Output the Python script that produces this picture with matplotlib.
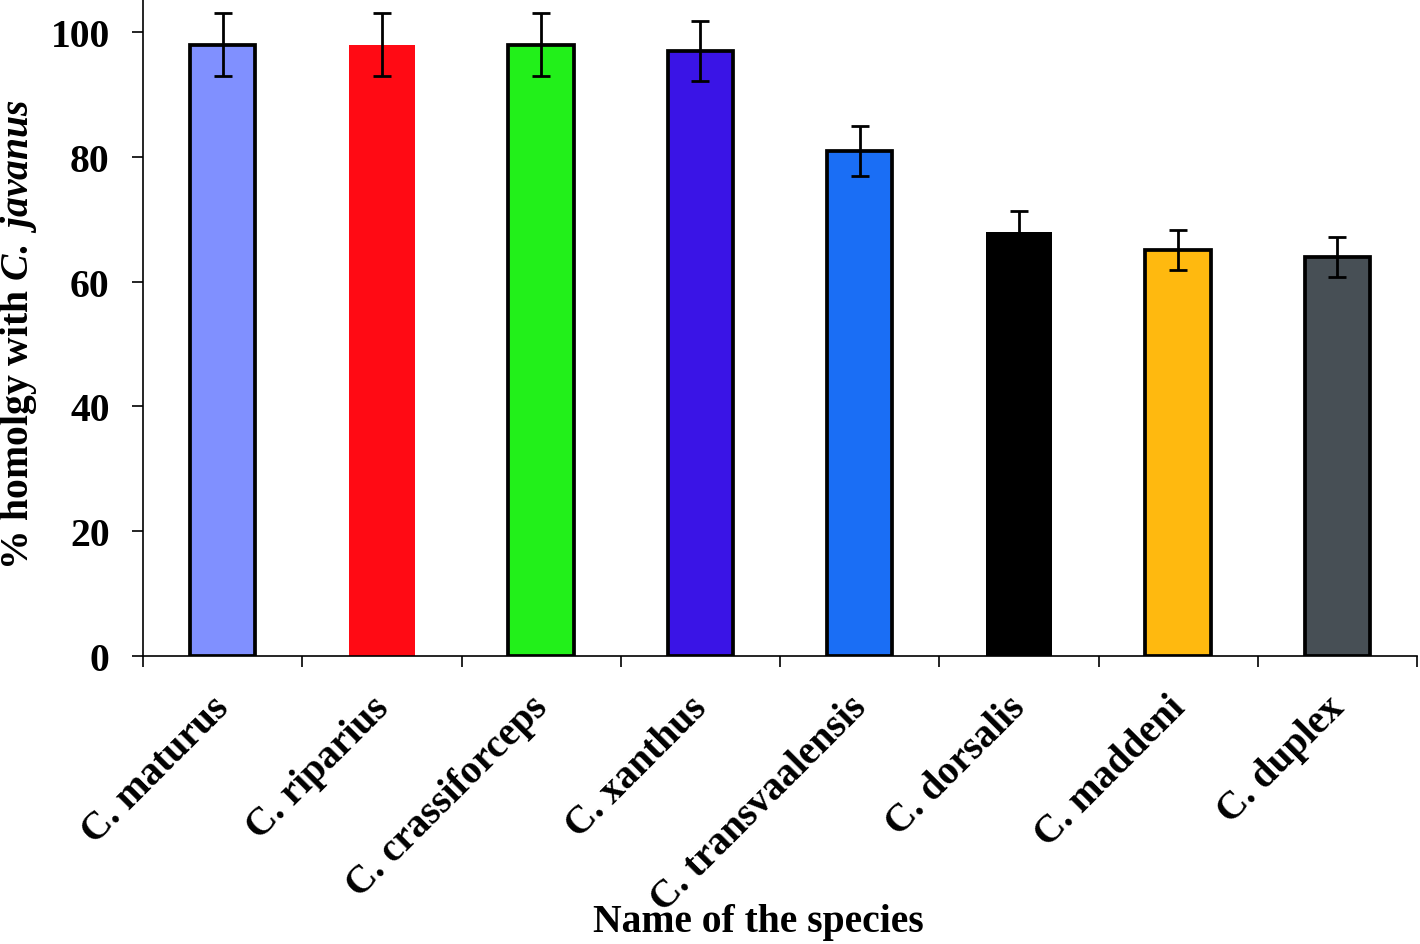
import matplotlib
matplotlib.use("Agg")
import matplotlib.pyplot as plt
import numpy as np

species = ["C. maturus", "C. riparius", "C. crassiforceps", "C. xanthus",
           "C. transvaalensis", "C. dorsalis", "C. maddeni", "C. duplex"]
homology = [98, 98, 98, 97, 81, 68, 65, 64]
errors = [5, 5, 5, 4.8, 4, 3.4, 3.2, 3.2]
colors = ["#8090FF", "#FF0A14", "#22F01A", "#3A14E6", "#1A6EF5", "#000000", "#FFB90F", "#474F55"]
edge_widths = [2.7, 0, 2.7, 2.7, 2.7, 0, 2.7, 2.7]
yticks = [0, 20, 40, 60, 80, 100]

plt.rcParams['font.family'] = ['Liberation Serif', 'DejaVu Serif']
plt.rcParams['font.weight'] = 'bold'
plt.rcParams['mathtext.fontset'] = 'custom'
plt.rcParams['mathtext.rm'] = 'Liberation Serif:bold'
plt.rcParams['mathtext.it'] = 'Liberation Serif:italic:bold'

fig = plt.figure(figsize=(14.2, 9.45), dpi=100)
ax = fig.add_axes([143/1420, 1 - 657/945, (1417-143)/1420, 657/945])

x = np.arange(len(species))
ax.bar(x, homology, width=0.41, color=colors, edgecolor='black',
       linewidth=edge_widths, zorder=2)
ax.errorbar(x, homology, yerr=errors, fmt='none', ecolor='black',
            elinewidth=2.0, capsize=6.5, capthick=2.0, zorder=3)

ax.set_xlim(-0.5, len(species) - 0.5)
ax.set_ylim(0, 105.3)
ax.set_yticks(yticks)
ax.set_yticklabels([str(v) for v in yticks], fontsize=28.5, fontweight='bold')
ax.set_xticks(x)
ax.set_xticklabels([])
for xi, name in zip(x, species):
    ax.annotate(name, xy=(xi, 0), xycoords=('data', 'axes fraction'),
                xytext=(1, -33), textcoords='offset points',
                rotation=45, ha='right', va='center', rotation_mode='anchor',
                fontsize=28.5, fontweight='bold', annotation_clip=False)
ax.set_xticks(np.arange(-0.5, len(species)), minor=True)
ax.tick_params(axis='x', which='major', length=0)
ax.tick_params(axis='x', which='minor', length=8, width=1.2, direction='out')
ax.tick_params(axis='y', length=8, width=1.2, direction='out', pad=16)

for s in ['top', 'right']:
    ax.spines[s].set_visible(False)
for s in ['left', 'bottom']:
    ax.spines[s].set_linewidth(1.2)

fig.text(19/1420, 1 - 335/945, r"% homolgy with $C.\ javanus$", fontsize=28.5,
         fontweight='bold', rotation=90, ha='center', va='center')
fig.text(758/1420, 1 - 923/945, "Name of the species", fontsize=28.5,
         fontweight='bold', ha='center', va='center')

fig.savefig("out.png", dpi=100)
